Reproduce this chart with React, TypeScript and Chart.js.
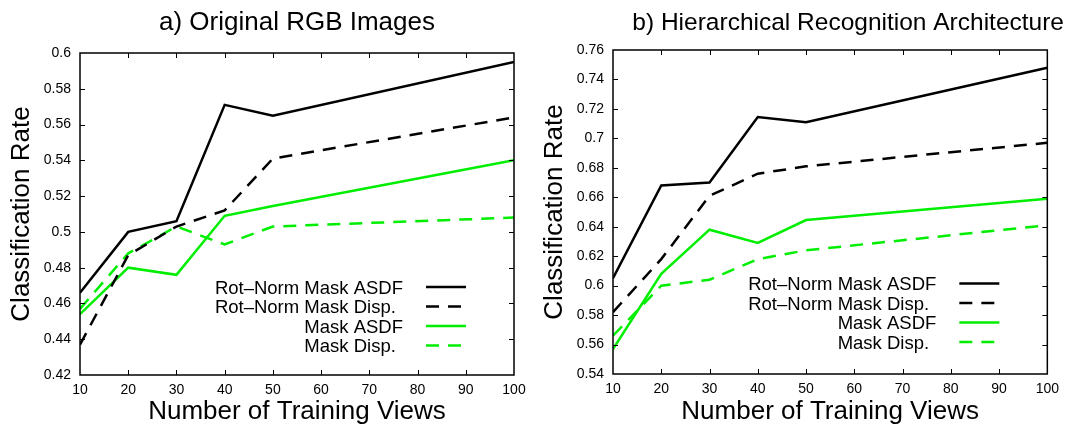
import React, { useEffect, useRef } from 'react';
import { Chart, registerables } from 'chart.js';

Chart.register(...registerables);

// ---------- data ----------
const trainingViews = [10, 20, 30, 40, 50, 100];
const seriesNames = ['Rot–Norm Mask ASDF', 'Rot–Norm Mask Disp.', 'Mask ASDF', 'Mask Disp.'];

// a) Original RGB Images
const rgbRotNormAsdf = [0.466, 0.5, 0.506, 0.571, 0.565, 0.595];
const rgbRotNormDisp = [0.437, 0.487, 0.503, 0.512, 0.541, 0.564];
const rgbMaskAsdf = [0.454, 0.48, 0.476, 0.509, 0.5145, 0.54];
const rgbMaskDisp = [0.457, 0.488, 0.503, 0.493, 0.503, 0.508];

// b) Hierarchical Recognition Architecture
const hraRotNormAsdf = [0.605, 0.668, 0.67, 0.7145, 0.711, 0.748];
const hraRotNormDisp = [0.582, 0.618, 0.661, 0.676, 0.681, 0.697];
const hraMaskAsdf = [0.557, 0.608, 0.638, 0.629, 0.6445, 0.659];
const hraMaskDisp = [0.566, 0.6, 0.604, 0.618, 0.624, 0.641];

// tick labels
const xTicks = [10, 20, 30, 40, 50, 60, 70, 80, 90, 100];
const rgbYTicks = [0.42, 0.44, 0.46, 0.48, 0.5, 0.52, 0.54, 0.56, 0.58, 0.6];
const hraYTicks = [0.54, 0.56, 0.58, 0.6, 0.62, 0.64, 0.66, 0.68, 0.7, 0.72, 0.74, 0.76];

const titleA = 'a) Original RGB Images';
const titleB = 'b) Hierarchical Recognition Architecture';
const xTitle = 'Number of Training Views';
const yTitle = 'Classification Rate';

// ---------- styles ----------
const FONT = "'Liberation Sans', Arial, Helvetica, sans-serif";
const BLACK = '#000000';
const GREEN = '#00ee00';
const seriesColors = [BLACK, BLACK, GREEN, GREEN];
const seriesDashes: number[][] = [[], [13, 9], [], [13, 9]];

const gnuplotPlugin = {
  id: 'gnuplotFrame',
  afterDatasetsDraw(chart: any, _args: any, opts: any) {
    const { ctx, chartArea: a, scales } = chart;
    ctx.save();
    // frame
    ctx.strokeStyle = BLACK;
    ctx.lineWidth = 1.5;
    ctx.setLineDash([]);
    ctx.strokeRect(a.left, a.top, a.right - a.left, a.bottom - a.top);
    // inward ticks (mirrored)
    const tl = 5;
    ctx.lineWidth = 1;
    ctx.beginPath();
    scales.x.ticks.forEach((t: any) => {
      const px = Math.round(scales.x.getPixelForValue(t.value)) + 0.5;
      if (px <= a.left + 1 || px >= a.right - 1) return;
      ctx.moveTo(px, a.bottom);
      ctx.lineTo(px, a.bottom - tl);
      ctx.moveTo(px, a.top);
      ctx.lineTo(px, a.top + tl);
    });
    scales.y.ticks.forEach((t: any) => {
      const py = Math.round(scales.y.getPixelForValue(t.value)) + 0.5;
      if (py <= a.top + 1 || py >= a.bottom - 1) return;
      ctx.moveTo(a.left, py);
      ctx.lineTo(a.left + tl, py);
      ctx.moveTo(a.right, py);
      ctx.lineTo(a.right - tl, py);
    });
    ctx.stroke();

    // legend (gnuplot style: text block, sample on the right)
    ctx.font = `18.5px ${FONT}`;
    ctx.textAlign = 'left';
    ctx.textBaseline = 'middle';
    const datasets = chart.data.datasets;
    datasets.forEach((ds: any, i: number) => {
      const y = a.bottom - opts.legendBottom + i * opts.legendRow;
      const lead = datasets[i - (i % 2)].label;
      const x0 = a.right - 111 - ctx.measureText(lead).width;
      ctx.fillStyle = BLACK;
      ctx.fillText(ds.label, x0, y);
      ctx.strokeStyle = ds.borderColor;
      ctx.lineWidth = ds.borderWidth;
      ctx.setLineDash(ds.borderDash || []);
      ctx.beginPath();
      ctx.moveTo(a.right - 88, y - 1.5);
      ctx.lineTo(a.right - 48, y - 1.5);
      ctx.stroke();
    });
    ctx.setLineDash([]);

    // title
    ctx.font = `${opts.titleSize}px ${FONT}`;
    ctx.textAlign = 'center';
    ctx.textBaseline = 'alphabetic';
    ctx.fillStyle = BLACK;
    ctx.fillText(opts.text, (a.left + a.right) / 2 + opts.titleShift, 30);
    ctx.restore();
  },
};

type PanelProps = {
  title: string;
  series: number[][];
  yTicks: number[];
  padTop: number;
  padRight: number;
  xAxisHeight: number;
  legendBottom: number;
  titleShift: number;
  titleSize: number;
};

function Panel(props: PanelProps) {
  const ref = useRef<HTMLCanvasElement | null>(null);
  useEffect(() => {
    if (!ref.current) return;
    const { series, yTicks } = props;
    const chart = new Chart(ref.current, {
      type: 'line',
      data: {
        datasets: series.map((vals, i) => ({
          label: seriesNames[i],
          data: trainingViews.map((x, k) => ({ x, y: vals[k] })),
          borderColor: seriesColors[i],
          backgroundColor: seriesColors[i],
          borderDash: seriesDashes[i],
          borderWidth: 2.5,
          pointRadius: 0,
          tension: 0,
          fill: false,
        })),
      },
      options: {
        responsive: false,
        animation: false,
        devicePixelRatio: 1,
        layout: { padding: { top: props.padTop, right: props.padRight, left: 0, bottom: 0 } },
        plugins: {
          legend: { display: false },
          tooltip: { enabled: false },
          title: { display: false },
          gnuplotFrame: {
            text: props.title,
            legendBottom: props.legendBottom,
            legendRow: 19.5,
            titleShift: props.titleShift,
            titleSize: props.titleSize,
          },
        } as any,
        scales: {
          x: {
            type: 'linear',
            min: xTicks[0],
            max: xTicks[xTicks.length - 1],
            grid: { display: false, drawTicks: false, tickLength: 0 },
            border: { display: false },
            afterBuildTicks: (s: any) => {
              s.ticks = xTicks.map((v) => ({ value: v }));
            },
            afterFit: (s: any) => {
              s.height = props.xAxisHeight;
            },
            ticks: {
              color: BLACK,
              padding: 7,
              maxRotation: 0,
              autoSkip: false,
              font: { family: FONT, size: 14 },
              callback: (v: any) => String(v),
            },
            title: {
              display: true,
              text: xTitle,
              color: BLACK,
              font: { family: FONT, size: 26 },
              padding: { top: 0, bottom: 2 },
            },
          },
          y: {
            type: 'linear',
            min: yTicks[0],
            max: yTicks[yTicks.length - 1],
            grid: { display: false, drawTicks: false, tickLength: 0 },
            border: { display: false },
            afterBuildTicks: (s: any) => {
              s.ticks = yTicks.map((v) => ({ value: v }));
            },
            afterFit: (s: any) => {
              s.width = 80;
            },
            ticks: {
              color: BLACK,
              padding: 9,
              autoSkip: false,
              font: { family: FONT, size: 14 },
              callback: (v: any) => String(Number(Number(v).toFixed(2))),
            },
            title: {
              display: true,
              text: yTitle,
              color: BLACK,
              font: { family: FONT, size: 26 },
              padding: { top: 6, bottom: 0 },
            },
          },
        },
      },
      plugins: [gnuplotPlugin],
    } as any);
    return () => chart.destroy();
  }, []);
  return <canvas ref={ref} width={533} height={429} style={{ width: 533, height: 429, display: 'block' }} />;
}

export default function App() {
  return (
    <div
      style={{
        position: 'absolute',
        left: 0,
        top: 0,
        width: 1066,
        height: 429,
        background: '#ffffff',
        display: 'flex',
        flexDirection: 'row',
      }}
    >
      <Panel
        title={titleA}
        series={[rgbRotNormAsdf, rgbRotNormDisp, rgbMaskAsdf, rgbMaskDisp]}
        yTicks={rgbYTicks}
        padTop={53}
        padRight={19}
        xAxisHeight={54}
        legendBottom={86.5}
        titleShift={0}
        titleSize={26}
      />
      <Panel
        title={titleB}
        series={[hraRotNormAsdf, hraRotNormDisp, hraMaskAsdf, hraMaskDisp]}
        yTicks={hraYTicks}
        padTop={50}
        padRight={18}
        xAxisHeight={55}
        legendBottom={89}
        titleShift={18}
        titleSize={24.5}
      />
    </div>
  );
}
